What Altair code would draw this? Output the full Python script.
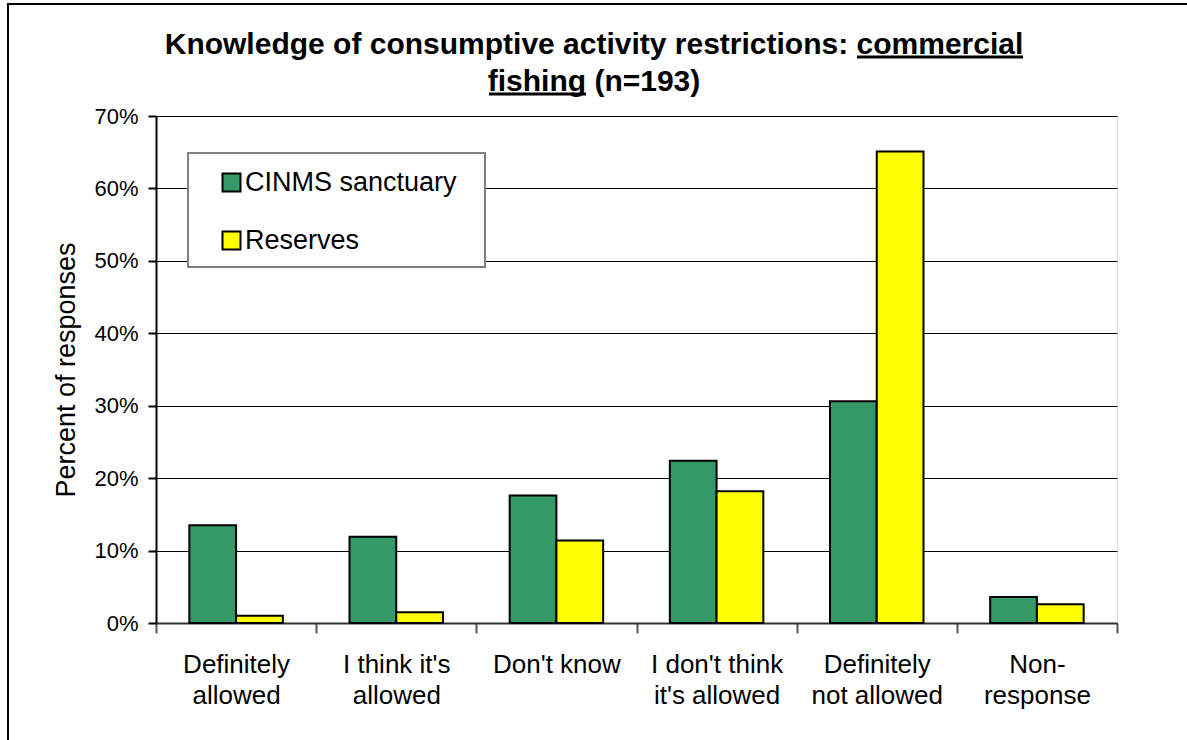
import json
import altair as alt
import pandas as pd

categories = ["Definitely allowed", "I think it's allowed", "Don't know",
              "I don't think it's allowed", "Definitely not allowed", "Non-response"]
label_lines = [["Definitely", "allowed"], ["I think it's", "allowed"], ["Don't know"],
               ["I don't think", "it's allowed"], ["Definitely", "not allowed"], ["Non-", "response"]]
series = ["CINMS sanctuary", "Reserves"]
cinms = [0.135, 0.119, 0.176, 0.224, 0.306, 0.036]
reserves = [0.010, 0.015, 0.114, 0.182, 0.651, 0.026]
colors = ["#339966", "#FFFF00"]
y_ticks = [0, 0.1, 0.2, 0.3, 0.4, 0.5, 0.6, 0.7]
title_line1 = "Knowledge of consumptive activity restrictions: commercial"
title_line2 = "fishing (n=193)"

rows = []
for c, a, b in zip(categories, cinms, reserves):
    rows.append({"category": c, "series": series[0], "value": a})
    rows.append({"category": c, "series": series[1], "value": b})
df = pd.DataFrame(rows)

FONT = "Liberation Sans"
label_map = json.dumps(dict(zip(categories, label_lines)))

bars = alt.Chart(df).mark_bar(stroke="black", strokeWidth=2).encode(
    x=alt.X("category:N", sort=categories,
            scale=alt.Scale(paddingInner=0, paddingOuter=0),
            axis=alt.Axis(title=None, labelAngle=0, labelExpr=label_map + "[datum.label]",
                          tickBand="extent", tickSize=10, tickColor="#555", tickWidth=2,
                          domainColor="#333", domainWidth=2, labelPadding=18,
                          labelFontSize=26, labelFont=FONT, labelColor="black",
                          labelLineHeight=31, labelBaseline="top", grid=False)),
    xOffset=alt.XOffset("series:N", sort=series,
                        scale=alt.Scale(paddingInner=0, paddingOuter=0.713)),
    y=alt.Y("value:Q", scale=alt.Scale(domain=[0, 0.7], nice=False),
            axis=alt.Axis(values=y_ticks, format=".0%", title="Percent of responses",
                          titleFont=FONT, titleFontSize=27, titleFontWeight="normal",
                          titleColor="black", titlePadding=13,
                          labelFont=FONT, labelFontSize=22, labelColor="black", labelPadding=10,
                          tickSize=8, tickColor="black", tickWidth=2,
                          domainColor="black", domainWidth=2,
                          grid=True, gridColor="black", gridWidth=1)),
    color=alt.Color("series:N", sort=series,
                    scale=alt.Scale(domain=series, range=colors),
                    legend=alt.Legend(title=None, orient="none", legendX=62, legendY=53,
                                      labelFont=FONT, labelFontSize=27, labelColor="black",
                                      labelLimit=500,
                                      symbolType="square", symbolSize=324,
                                      symbolStrokeColor="black", symbolStrokeWidth=2,
                                      symbolOpacity=1, labelOffset=0,
                                      rowPadding=30, padding=0)),
)

deco = pd.DataFrame({"k": [0]})
legend_box = alt.Chart(deco).mark_rect(fill="white", stroke="#808080", strokeWidth=2).encode(
    x=alt.value(32), x2=alt.value(329), y=alt.value(37), y2=alt.value(151))
title1 = alt.Chart(deco).mark_text(font=FONT, fontSize=30, fontWeight="bold", color="black",
                                   align="center", baseline="alphabetic").encode(
    x=alt.value(438), y=alt.value(-62), text=alt.value(title_line1))
title2 = alt.Chart(deco).mark_text(font=FONT, fontSize=30, fontWeight="bold", color="black",
                                   align="center", baseline="alphabetic").encode(
    x=alt.value(438), y=alt.value(-25), text=alt.value(title_line2))
underline1 = alt.Chart(deco).mark_rule(color="black", strokeWidth=3).encode(
    x=alt.value(701), x2=alt.value(867), y=alt.value(-59))
underline2 = alt.Chart(deco).mark_rule(color="black", strokeWidth=3).encode(
    x=alt.value(333), x2=alt.value(430), y=alt.value(-22))
border = alt.Chart(deco).mark_rect(fill="transparent", stroke="black", strokeWidth=2).encode(
    x=alt.value(-148), x2=alt.value(1100), y=alt.value(-112), y2=alt.value(700))

chart = alt.layer(border, bars, legend_box, title1, title2, underline1, underline2).properties(
    width=961, height=507,
    autosize=alt.AutoSizeParams(type="none"),
    padding={"left": 156, "top": 116, "right": 70, "bottom": 117},
).configure_view(stroke="#808080", strokeWidth=2).configure(background="white")

chart.save("out.html", embed_options={"renderer": "svg", "actions": False})
